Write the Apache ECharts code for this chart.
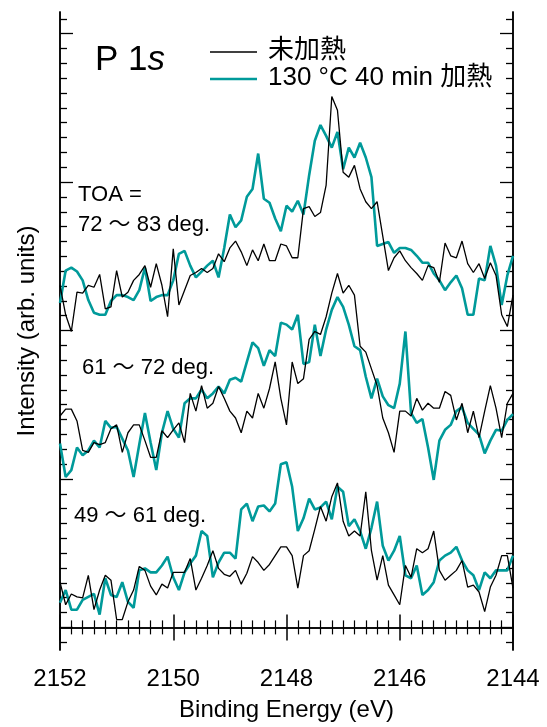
<!DOCTYPE html>
<html>
<head>
<meta charset="utf-8">
<title>P 1s</title>
<script src="https://cdn.jsdelivr.net/npm/echarts@6/dist/echarts.min.js"></script>
<style>
html, body { margin: 0; padding: 0; background: #fff; }
#main { width: 547px; height: 727px; }
</style>
</head>
<body>
<div id="main"></div>
<script>
// binding energy (eV), 0.1 eV steps
var energy = [
	2152.0, 2151.9, 2151.8, 2151.7, 2151.6, 2151.5, 2151.4, 2151.3, 2151.2, 2151.1,
	2151.0, 2150.9, 2150.8, 2150.7, 2150.6, 2150.5, 2150.4, 2150.3, 2150.2, 2150.1,
	2150.0, 2149.9, 2149.8, 2149.7, 2149.6, 2149.5, 2149.4, 2149.3, 2149.2, 2149.1,
	2149.0, 2148.9, 2148.8, 2148.7, 2148.6, 2148.5, 2148.4, 2148.3, 2148.2, 2148.1,
	2148.0, 2147.9, 2147.8, 2147.7, 2147.6, 2147.5, 2147.4, 2147.3, 2147.2, 2147.1,
	2147.0, 2146.9, 2146.8, 2146.7, 2146.6, 2146.5, 2146.4, 2146.3, 2146.2, 2146.1,
	2146.0, 2145.9, 2145.8, 2145.7, 2145.6, 2145.5, 2145.4, 2145.3, 2145.2, 2145.1,
	2145.0, 2144.9, 2144.8, 2144.7, 2144.6, 2144.5, 2144.4, 2144.3, 2144.2, 2144.1,
	2144.0
];

// TOA = 72 ~ 83 deg. (stacked, arb. units)
var raw72 = [
	348, 318, 301, 341, 340, 348, 346, 359, 324, 326,
	363, 336, 341, 353, 359, 368, 346, 370, 348, 316,
	385, 328, 343, 358, 361, 365, 361, 365, 380, 372,
	386, 393, 382, 368, 384, 373, 390, 373, 373, 390,
	388, 376, 376, 426, 428, 418, 422, 450, 540, 526,
	463, 458, 470, 446, 433, 426, 433, 398, 363, 376,
	383, 373, 366, 360, 353, 368, 366, 351, 391, 378,
	376, 393, 370, 361, 370, 355, 371, 358, 318, 306,
	338
];
var heat72 = [
	330, 363, 366, 362, 353, 333, 320, 318, 318, 332,
	338, 338, 336, 333, 343, 366, 332, 336, 338, 338,
	353, 380, 383, 368, 356, 362, 368, 373, 356, 386,
	420, 407, 414, 438, 446, 482, 436, 432, 416, 403,
	429, 423, 434, 420, 460, 495, 511, 500, 488, 504,
	466, 488, 478, 493, 478, 458, 388, 390, 392, 381,
	386, 386, 384, 378, 371, 371, 360, 353, 343, 351,
	358, 345, 318, 318, 355, 353, 388, 368, 328, 358,
	378
];

// TOA = 61 ~ 72 deg.
var raw61 = [
	215, 222, 222, 210, 180, 178, 188, 186, 188, 202,
	206, 178, 198, 206, 206, 190, 173, 173, 200, 193,
	201, 208, 188, 238, 220, 246, 223, 228, 245, 233,
	220, 213, 198, 220, 213, 238, 223, 243, 270, 233,
	206, 270, 248, 253, 293, 301, 298, 316, 340, 360,
	340, 348, 338, 286, 280, 263, 246, 213, 198, 178,
	220, 220, 215, 233, 221, 228, 223, 223, 240, 236,
	211, 228, 198, 220, 193, 220, 246, 223, 193, 228,
	238
];
var heat61 = [
	187, 153, 160, 183, 175, 180, 190, 183, 210, 203,
	204, 192, 180, 153, 186, 218, 188, 160, 198, 220,
	202, 193, 228, 233, 233, 242, 233, 238, 245, 238,
	252, 254, 250, 270, 290, 284, 266, 282, 276, 310,
	308, 303, 318, 268, 270, 308, 276, 303, 323, 336,
	326, 308, 286, 282, 255, 233, 253, 235, 226, 223,
	248, 301, 218, 208, 212, 183, 150, 190, 201, 206,
	220, 224, 208, 202, 196, 177, 190, 201, 200, 211,
	217
];

// TOA = 49 ~ 61 deg.
var raw49 = [
	46, 23, 34, 31, 30, 53, 18, 38, 53, 48,
	8, 8, 26, 38, 62, 58, 42, 33, 44, 40,
	56, 56, 56, 70, 38, 50, 63, 78, 60, 54,
	52, 58, 44, 55, 72, 66, 58, 64, 73, 82,
	82, 73, 40, 73, 78, 100, 123, 108, 133, 147,
	108, 93, 98, 93, 138, 78, 48, 73, 43, 33,
	23, 63, 51, 80, 76, 80, 98, 58, 48, 53,
	58, 68, 41, 43, 36, 16, 41, 53, 73, 73,
	40
];
var heat49 = [
	25, 38, 18, 18, 28, 31, 34, 13, 50, 33,
	31, 46, 26, 20, 58, 60, 56, 56, 63, 72,
	51, 38, 56, 65, 73, 98, 93, 51, 66, 76,
	76, 70, 120, 126, 108, 123, 124, 118, 126, 166,
	168, 143, 98, 111, 131, 120, 122, 128, 110, 143,
	138, 103, 110, 98, 80, 101, 128, 83, 68, 78,
	93, 53, 50, 63, 33, 38, 46, 68, 73, 76,
	82, 68, 58, 53, 38, 56, 50, 58, 58, 58,
	73
];

var yMin = -23, yMax = 626, yStep = 15.1;
var nameRaw = '未加熱';
var nameHeat = '130 °C 40 min 加熱';
var labels = [
	{ text: 'TOA =', x: 78, y: 195 },
	{ text: '72 ～ 83 deg.', x: 78, y: 225 },
	{ text: '61 ～ 72 deg.', x: 82, y: 368 },
	{ text: '49 ～ 61 deg.', x: 74, y: 516 }
];

var FONT = '"Liberation Sans", Arial, "Noto Sans CJK JP", sans-serif';
var TEAL = '#009a9a';

// y ticks: minor every step, long ones every 10
var minorTicks = [], majorTicks = [];
for (var k = -1; k <= 41; k++) {
	if (k % 10 === 0) majorTicks.push(k * yStep);
	else minorTicks.push(k * yStep);
}

function pairs(vals) {
	return vals.map(function (v, i) { return [energy[i], v]; });
}

function xAx(pos, showLabel) {
	return {
		type: 'value',
		position: pos,
		min: 2144,
		max: 2152,
		interval: 2,
		inverse: true,
		axisLine: { show: true, lineStyle: { color: '#000', width: 1.5 } },
		axisTick: { show: true, inside: true, length: 13, lineStyle: { color: '#000', width: 1.5 } },
		minorTick: { show: true, splitNumber: 10, length: 7, lineStyle: { color: '#000', width: 1.2 } },
		axisLabel: {
			show: showLabel, fontSize: 24, color: '#000', margin: 17, fontFamily: FONT,
			formatter: function (v) { return String(v); }
		},
		splitLine: { show: false },
		minorSplitLine: { show: false },
		name: showLabel ? 'Binding Energy (eV)' : '',
		nameLocation: 'middle',
		nameGap: 48,
		nameTextStyle: { fontSize: 24, color: '#000', fontFamily: FONT }
	};
}

function yAx(pos, ticks, len, withName) {
	return {
		type: 'value',
		position: pos,
		min: yMin,
		max: yMax,
		axisLine: { show: true, lineStyle: { color: '#000', width: 1.5 } },
		axisTick: { show: true, inside: true, length: len, customValues: ticks,
			lineStyle: { color: '#000', width: 1.3 } },
		axisLabel: { show: false },
		splitLine: { show: false },
		name: withName ? 'Intensity (arb. units)' : '',
		nameLocation: 'middle',
		nameRotate: 90,
		nameGap: 21,
		nameTextStyle: { fontSize: 24, color: '#000', fontFamily: FONT }
	};
}

function line(name, vals, color, width) {
	return {
		name: name,
		type: 'line',
		data: pairs(vals),
		showSymbol: false,
		symbol: 'none',
		animation: false,
		lineStyle: { color: color, width: width },
		itemStyle: { color: color }
	};
}

var myChart = echarts.init(document.getElementById('main'));

var graphics = labels.map(function (l) {
	return {
		type: 'text',
		x: l.x,
		y: l.y,
		style: { text: l.text, fontSize: 22, fontFamily: FONT, fill: '#000', verticalAlign: 'middle' }
	};
});
// title
graphics.push({
	type: 'text',
	x: 95,
	y: 60,
	style: {
		text: '{a|P 1}{b|s}',
		verticalAlign: 'middle',
		rich: {
			a: { fontSize: 35, fontFamily: FONT, fill: '#000' },
			b: { fontSize: 35, fontFamily: FONT, fontStyle: 'italic', fill: '#000' }
		}
	}
});
// legend: short line + text
[[nameRaw, '#000', 1.3, 52], [nameHeat, TEAL, 2.6, 79]].forEach(function (it) {
	graphics.push({
		type: 'line',
		shape: { x1: 210, y1: it[3], x2: 257, y2: it[3] },
		style: { stroke: it[1], lineWidth: it[2] }
	});
	graphics.push({
		type: 'text',
		x: 268,
		y: it[3] - 1,
		style: { text: it[0], fontSize: 26, fontFamily: FONT, fill: '#000', verticalAlign: 'middle' }
	});
});

var option = {
	backgroundColor: '#fff',
	animation: false,
	grid: { left: 60, right: 34, top: 12, bottom: 66 },
	xAxis: [xAx('bottom', true), xAx('top', false)],
	yAxis: [
		yAx('left', minorTicks, 7, true),
		yAx('left', majorTicks, 13, false),
		yAx('right', minorTicks, 7, false),
		yAx('right', majorTicks, 13, false)
	],
	graphic: graphics,
	series: [
		line(nameHeat, heat72, TEAL, 2.6),
		line(nameHeat, heat61, TEAL, 2.6),
		line(nameHeat, heat49, TEAL, 2.6),
		line(nameRaw, raw72, '#000', 1.3),
		line(nameRaw, raw61, '#000', 1.3),
		line(nameRaw, raw49, '#000', 1.3)
	]
};
myChart.setOption(option);
</script>
</body>
</html>
